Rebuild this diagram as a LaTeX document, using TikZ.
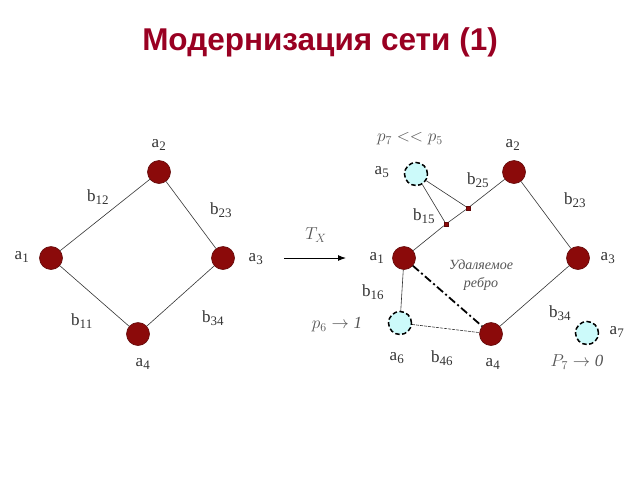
\documentclass[tikz,border=0pt]{standalone}
\usepackage{fontspec}
\setmainfont{Liberation Serif}
\newfontfamily\titlefont{Liberation Sans}
\usetikzlibrary{arrows.meta}
\definecolor{nodered}{HTML}{8B0A0A}
\definecolor{titlered}{HTML}{990022}
\definecolor{lightcyan}{HTML}{CCFAFA}
\definecolor{lblgrey}{HTML}{333333}
\definecolor{mgrey}{HTML}{555555}
\tikzset{
  rnode/.style={circle,fill=nodered,draw=nodered!70!black,line width=0.6pt,minimum size=23pt,inner sep=0pt},
  cnode/.style={circle,fill=lightcyan,draw=black,line width=1.5pt,minimum size=23pt,inner sep=0pt,dash pattern=on 4.5pt off 2.5pt},
  sq/.style={rectangle,fill=nodered,draw=nodered!70!black,minimum size=4pt,inner sep=0pt},
  edge/.style={draw=black!80,line width=0.6pt},
  lbl/.style={text=lblgrey,font=\fontsize{17}{19}\selectfont,inner sep=0pt},
  mlbl/.style={text=mgrey,font=\fontsize{17}{19}\selectfont,inner sep=0pt},
  ilbl/.style={text=mgrey,font=\fontsize{14}{18}\selectfont\itshape,inner sep=0pt,align=center},
}
\newcommand{\sub}[2]{#1\textsubscript{\fontsize{13}{13}\selectfont #2}}
\begin{document}
\begin{tikzpicture}[x=1pt,y=-1pt]
\useasboundingbox (0,0) rectangle (640,480);
\node[text=titlered,font=\titlefont\bfseries\fontsize{31.5}{36}\selectfont] (title) at (320,42) {Модернизация сети (1)};
% left graph
\node[rnode] (L1) at (51,258) {};
\node[rnode] (L2) at (159,172) {};
\node[rnode] (L3) at (223,258) {};
\node[rnode] (L4) at (138,334) {};
\draw[edge] (L1) -- (L2);
\draw[edge] (L2) -- (L3);
\draw[edge] (L3) -- (L4);
\draw[edge] (L4) -- (L1);
\node[lbl] (lL2) at (159,145) {\sub{a}{2}};
\node[lbl] (lL1) at (22,257) {\sub{a}{1}};
\node[lbl] (lL3) at (256,259) {\sub{a}{3}};
\node[lbl] (lL4) at (143,364) {\sub{a}{4}};
\node[lbl] (lb12) at (98,197) {\sub{b}{12}};
\node[lbl] (lb23) at (221,210) {\sub{b}{23}};
\node[lbl] (lb11) at (82,321) {\sub{b}{11}};
\node[lbl] (lb34) at (213,318) {\sub{b}{34}};
% arrow
\coordinate (arS) at (284,258);
\coordinate (arE) at (346,258);
\draw[line width=1pt,-{Latex[length=8pt,width=6pt]}] (arS) -- (arE);
\node[mlbl] (tx) at (316,235) {$T_X$};
% right graph
\node[rnode] (R1) at (404,258) {};
\node[rnode] (R2) at (514,172) {};
\node[rnode] (R3) at (578,258) {};
\node[rnode] (R4) at (491,334) {};
\node[cnode] (R5) at (416,174) {};
\node[cnode] (R6) at (400,323) {};
\node[cnode] (R7) at (587,333) {};
\node[sq] (s1) at (446,224) {};
\node[sq] (s2) at (468,208) {};
\draw[edge] (R1) -- (s1) -- (s2) -- (R2);
\draw[edge] (R5) -- (s1);
\draw[edge] (R5) -- (s2);
\draw[edge] (R2) -- (R3);
\draw[edge] (R3) -- (R4);
\draw[edge] (R1) -- (R6);
\draw[edge,dash pattern=on 3pt off 1pt] (R6) -- (R4);
\draw[black,line width=1.8pt,dash pattern=on 8pt off 3pt on 2pt off 3pt] (R1) -- (R4);
\node[lbl] (lR5) at (382,172) {\sub{a}{5}};
\node[lbl] (lb25) at (478,180) {\sub{b}{25}};
\node[lbl] (lb15) at (424,216) {\sub{b}{15}};
\node[mlbl] (p7) at (410,139) {$p_7<<p_5$};
\node[lbl] (lR2) at (513,145) {\sub{a}{2}};
\node[lbl] (lb23r) at (575,200) {\sub{b}{23}};
\node[lbl] (lR1) at (377,258) {\sub{a}{1}};
\node[lbl] (lR3) at (608,258) {\sub{a}{3}};
\node[lbl] (lb16) at (373,292) {\sub{b}{16}};
\node[mlbl] (p6) at (337,325) {$p_6\rightarrow\mathit{1}$};
\node[lbl] (lR6) at (397,358) {\sub{a}{6}};
\node[lbl] (lb46) at (442,358) {\sub{b}{46}};
\node[lbl] (lR4) at (493,364) {\sub{a}{4}};
\node[lbl] (lb34r) at (560,313) {\sub{b}{34}};
\node[lbl] (lR7) at (617,332) {\sub{a}{7}};
\node[mlbl] (P7) at (577,362) {$P_7\rightarrow\mathit{0}$};
\node[ilbl] (rem) at (481,275) {Удаляемое\\ребро};
\end{tikzpicture}
\end{document}
